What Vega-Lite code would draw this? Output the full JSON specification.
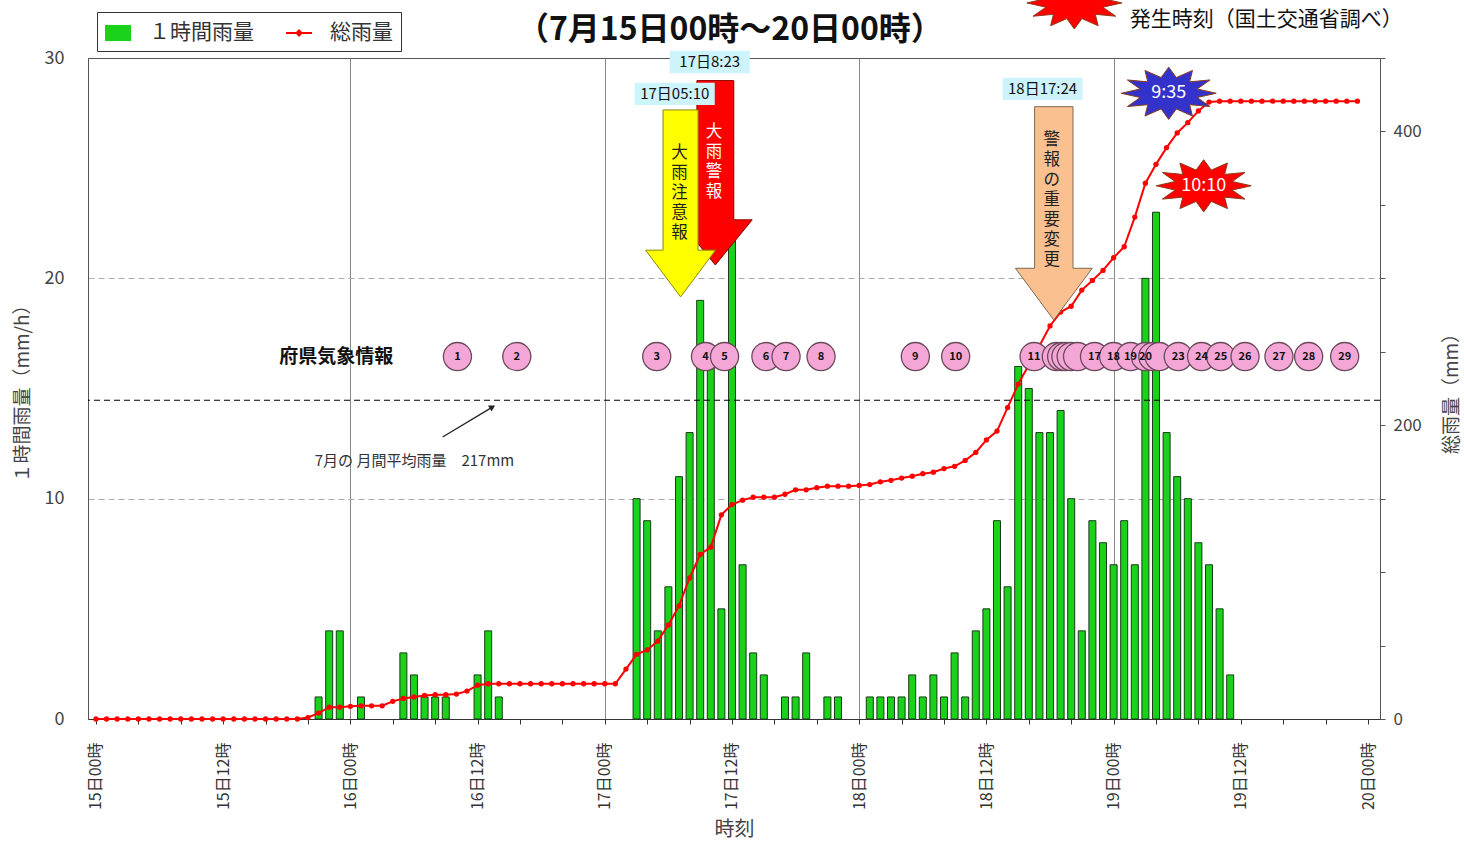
{
  "$schema": "https://vega.github.io/schema/vega-lite/v6.json",
  "width": 1292,
  "height": 661,
  "autosize": {"type": "none"},
  "padding": {"left": 88, "top": 58, "right": 84, "bottom": 122},
  "background": "white",
  "config": {
    "font": "Noto Sans CJK JP",
    "view": {"fill": "#ffffcc", "stroke": "#555", "strokeWidth": 1}
  },
  "datasets": {
    "bars": [
      {"h": 21, "v": 1}, {"h": 22, "v": 4}, {"h": 23, "v": 4}, {"h": 25, "v": 1}, {"h": 29, "v": 3}, {"h": 30, "v": 2}, {"h": 31, "v": 1}, {"h": 32, "v": 1}, {"h": 33, "v": 1}, {"h": 36, "v": 2}, {"h": 37, "v": 4}, {"h": 38, "v": 1},
      {"h": 51, "v": 10}, {"h": 52, "v": 9}, {"h": 53, "v": 4}, {"h": 54, "v": 6}, {"h": 55, "v": 11}, {"h": 56, "v": 13}, {"h": 57, "v": 19}, {"h": 58, "v": 16}, {"h": 59, "v": 5}, {"h": 60, "v": 22}, {"h": 61, "v": 7}, {"h": 62, "v": 3}, {"h": 63, "v": 2}, {"h": 65, "v": 1}, {"h": 66, "v": 1}, {"h": 67, "v": 3}, {"h": 69, "v": 1}, {"h": 70, "v": 1},
      {"h": 73, "v": 1}, {"h": 74, "v": 1}, {"h": 75, "v": 1}, {"h": 76, "v": 1}, {"h": 77, "v": 2}, {"h": 78, "v": 1}, {"h": 79, "v": 2}, {"h": 80, "v": 1}, {"h": 81, "v": 3}, {"h": 82, "v": 1}, {"h": 83, "v": 4}, {"h": 84, "v": 5}, {"h": 85, "v": 9}, {"h": 86, "v": 6}, {"h": 87, "v": 16}, {"h": 88, "v": 15}, {"h": 89, "v": 13}, {"h": 90, "v": 13}, {"h": 91, "v": 14}, {"h": 92, "v": 10}, {"h": 93, "v": 4}, {"h": 94, "v": 9}, {"h": 95, "v": 8}, {"h": 96, "v": 7}, {"h": 97, "v": 9}, {"h": 98, "v": 7}, {"h": 99, "v": 20}, {"h": 100, "v": 23}, {"h": 101, "v": 13}, {"h": 102, "v": 11}, {"h": 103, "v": 10}, {"h": 104, "v": 8}, {"h": 105, "v": 7}, {"h": 106, "v": 5}, {"h": 107, "v": 2}
    ],
    "total": [
      {"h": 0, "t": 0}, {"h": 1, "t": 0}, {"h": 2, "t": 0}, {"h": 3, "t": 0}, {"h": 4, "t": 0}, {"h": 5, "t": 0}, {"h": 6, "t": 0}, {"h": 7, "t": 0}, {"h": 8, "t": 0}, {"h": 9, "t": 0},
      {"h": 10, "t": 0}, {"h": 11, "t": 0}, {"h": 12, "t": 0}, {"h": 13, "t": 0}, {"h": 14, "t": 0}, {"h": 15, "t": 0}, {"h": 16, "t": 0}, {"h": 17, "t": 0}, {"h": 18, "t": 0}, {"h": 19, "t": 0},
      {"h": 20, "t": 1}, {"h": 21, "t": 4}, {"h": 22, "t": 8}, {"h": 23, "t": 8}, {"h": 24, "t": 8.6}, {"h": 25, "t": 9}, {"h": 26, "t": 9}, {"h": 27, "t": 9}, {"h": 28, "t": 12}, {"h": 29, "t": 14},
      {"h": 30, "t": 15}, {"h": 31, "t": 16}, {"h": 32, "t": 16.5}, {"h": 33, "t": 16.5}, {"h": 34, "t": 17}, {"h": 35, "t": 19}, {"h": 36, "t": 23}, {"h": 37, "t": 24}, {"h": 38, "t": 24}, {"h": 39, "t": 24},
      {"h": 40, "t": 24}, {"h": 41, "t": 24}, {"h": 42, "t": 24}, {"h": 43, "t": 24}, {"h": 44, "t": 24}, {"h": 45, "t": 24}, {"h": 46, "t": 24}, {"h": 47, "t": 24}, {"h": 48, "t": 24}, {"h": 49, "t": 24},
      {"h": 50, "t": 34}, {"h": 51, "t": 44}, {"h": 52, "t": 47}, {"h": 53, "t": 53}, {"h": 54, "t": 64}, {"h": 55, "t": 77}, {"h": 56, "t": 96}, {"h": 57, "t": 112}, {"h": 58, "t": 117}, {"h": 59, "t": 139},
      {"h": 60, "t": 146}, {"h": 61, "t": 149}, {"h": 62, "t": 151}, {"h": 63, "t": 151}, {"h": 64, "t": 151}, {"h": 65, "t": 153}, {"h": 66, "t": 156}, {"h": 67, "t": 156}, {"h": 68, "t": 157.5}, {"h": 69, "t": 158.5},
      {"h": 70, "t": 158.5}, {"h": 71, "t": 158.5}, {"h": 72, "t": 159}, {"h": 73, "t": 159.6}, {"h": 74, "t": 161.5}, {"h": 75, "t": 162.5}, {"h": 76, "t": 164}, {"h": 77, "t": 165.3}, {"h": 78, "t": 167}, {"h": 79, "t": 168},
      {"h": 80, "t": 170.5}, {"h": 81, "t": 172}, {"h": 82, "t": 176}, {"h": 83, "t": 181.5}, {"h": 84, "t": 190}, {"h": 85, "t": 196}, {"h": 86, "t": 212}, {"h": 87, "t": 228}, {"h": 88, "t": 241}, {"h": 89, "t": 254},
      {"h": 90, "t": 267.6}, {"h": 91, "t": 277}, {"h": 92, "t": 281}, {"h": 93, "t": 292}, {"h": 94, "t": 298.6}, {"h": 95, "t": 305.4}, {"h": 96, "t": 314}, {"h": 97, "t": 321.5}, {"h": 98, "t": 341.7}, {"h": 99, "t": 364.8},
      {"h": 100, "t": 377.6}, {"h": 101, "t": 389}, {"h": 102, "t": 399}, {"h": 103, "t": 406}, {"h": 104, "t": 414}, {"h": 105, "t": 420}, {"h": 106, "t": 420.6}, {"h": 107, "t": 420.6}, {"h": 108, "t": 420.6}, {"h": 109, "t": 420.6},
      {"h": 110, "t": 420.6}, {"h": 111, "t": 420.6}, {"h": 112, "t": 420.6}, {"h": 113, "t": 420.6}, {"h": 114, "t": 420.6}, {"h": 115, "t": 420.6}, {"h": 116, "t": 420.6}, {"h": 117, "t": 420.6}, {"h": 118, "t": 420.6}, {"h": 119, "t": 420.6}
    ],
    "info": [
      {"n": 1, "h": 34.1}, {"n": 2, "h": 39.7}, {"n": 3, "h": 52.9}, {"n": 4, "h": 57.5}, {"n": 5, "h": 59.3}, {"n": 6, "h": 63.2}, {"n": 7, "h": 65.1}, {"n": 8, "h": 68.4}, {"n": 9, "h": 77.3}, {"n": 10, "h": 81.1},
      {"n": 11, "h": 88.5}, {"n": 12, "h": 90.6}, {"n": 13, "h": 91.1}, {"n": 14, "h": 91.5}, {"n": 15, "h": 92.0}, {"n": 16, "h": 92.6}, {"n": 17, "h": 94.2}, {"n": 18, "h": 96.0}, {"n": 19, "h": 97.6}, {"n": 20, "h": 99.0},
      {"n": 21, "h": 99.7}, {"n": 22, "h": 100.3}, {"n": 23, "h": 102.1}, {"n": 24, "h": 104.3}, {"n": 25, "h": 106.1}, {"n": 26, "h": 108.4}, {"n": 27, "h": 111.6}, {"n": 28, "h": 114.4}, {"n": 29, "h": 117.8}
    ],
    "arrowText": [
      {"label": "大\n雨\n注\n意\n報", "h": 55.06, "v": 26.05, "kind": "advisory"},
      {"label": "大\n雨\n警\n報", "h": 58.3, "v": 27.0, "kind": "warning"},
      {"label": "警\n報\nの\n重\n要\n変\n更", "h": 90.17, "v": 26.65, "kind": "change"}
    ],
    "times": [
      {"label": "17日05:10", "h": 54.6, "v": 28.37},
      {"label": "17日8:23", "h": 57.9, "v": 29.82},
      {"label": "18日17:24", "h": 89.3, "v": 28.6}
    ],
    "stars": [
      {"label": "", "h": 92.3, "v": 32.5, "kind": "red"},
      {"label": "9:35", "h": 101.2, "v": 28.4, "kind": "blue"},
      {"label": "10:10", "h": 104.5, "v": 24.2, "kind": "red"}
    ]
  },
  "layer": [
    {
      "data": {"name": "bars"},
      "mark": {"type": "bar", "width": 7, "fill": "#19d219", "stroke": "#1a3a1a", "strokeWidth": 1},
      "encoding": {
        "x": {
          "field": "h", "type": "quantitative",
          "scale": {"domain": [-0.28, 120.66], "nice": false, "zero": false},
          "axis": {
            "values": [0,1,2,3,4,5,6,7,8,9,10,11,12,13,14,15,16,17,18,19,20,21,22,23,24,25,26,27,28,29,30,31,32,33,34,35,36,37,38,39,40,41,42,43,44,45,46,47,48,49,50,51,52,53,54,55,56,57,58,59,60,61,62,63,64,65,66,67,68,69,70,71,72,73,74,75,76,77,78,79,80,81,82,83,84,85,86,87,88,89,90,91,92,93,94,95,96,97,98,99,100,101,102,103,104,105,106,107,108,109,110,111,112,113,114,115,116,117,118,119,120],
            "labelExpr": "datum.value % 12 === 0 ? (floor(datum.value / 24) + 15) + '日' + (datum.value % 24 === 0 ? '00' : '12') + '時' : ''",
            "labelAngle": 270,
            "labelFontSize": 16,
            "labelColor": "#333",
            "labelPadding": 18,
            "labelOverlap": false,
            "tickSize": 5,
            "tickColor": "#333",
            "domainColor": "#333",
            "grid": true,
            "gridColor": "#888",
            "gridOpacity": {"condition": {"test": "datum.value % 24 === 0 && datum.value > 0 && datum.value < 120", "value": 1}, "value": 0},
            "title": "時刻",
            "titleFontSize": 20,
            "titleFontWeight": "normal",
            "titleColor": "#444",
            "titlePadding": 10
          }
        },
        "y": {
          "field": "v", "type": "quantitative",
          "scale": {"domain": [0, 30], "nice": false},
          "axis": {
            "values": [0, 10, 20, 30],
            "title": "１時間雨量（mm/h）",
            "titleFontSize": 19,
            "titleFontWeight": "normal",
            "titleColor": "#444",
            "titlePadding": 12,
            "labelFontSize": 18,
            "labelColor": "#444",
            "labelPadding": 24,
            "ticks": false,
            "domainColor": "#555",
            "grid": true,
            "gridDash": [6, 4],
            "gridColor": "#aaa",
            "gridOpacity": {"condition": {"test": "datum.value === 10 || datum.value === 20", "value": 1}, "value": 0}
          }
        }
      }
    },
    {
      "data": {"values": [{"series": "１時間雨量"}, {"series": "総雨量"}]},
      "mark": {"type": "point", "filled": true, "opacity": 0},
      "encoding": {
        "color": {
          "field": "series", "type": "nominal",
          "scale": {"domain": ["１時間雨量", "総雨量"], "range": ["#19d219", "#ff0000"]},
          "legend": {
            "title": null,
            "orient": "none",
            "legendX": 9,
            "legendY": -46,
            "direction": "horizontal",
            "fillColor": "white",
            "strokeColor": "#333",
            "padding": 8,
            "labelFontSize": 21,
            "labelColor": "#333",
            "labelOffset": 18,
            "columnPadding": 32,
            "symbolSize": 676,
            "symbolStrokeWidth": 0,
            "symbolOpacity": 1
          }
        },
        "shape": {
          "field": "series", "type": "nominal",
          "scale": {"domain": ["１時間雨量", "総雨量"], "range": ["M-1,-0.62H1V0.62H-1Z", "M-1,-0.07H1V0.07H-1Z M-0.3,0L0,-0.3L0.3,0L0,0.3Z"]},
          "legend": {
            "title": null,
            "orient": "none",
            "legendX": 9,
            "legendY": -46,
            "direction": "horizontal",
            "fillColor": "white",
            "strokeColor": "#333",
            "padding": 8,
            "labelFontSize": 21,
            "labelColor": "#333",
            "labelOffset": 18,
            "columnPadding": 32,
            "symbolSize": 676,
            "symbolStrokeWidth": 0,
            "symbolOpacity": 1
          }
        }
      }
    },
    {
      "layer": [
        {
          "data": {"name": "total"},
          "mark": {"type": "line", "strokeWidth": 2, "color": "#ff0000", "point": {"filled": true, "size": 28, "color": "#ff0000"}},
          "encoding": {
            "x": {"field": "h", "type": "quantitative", "scale": {"domain": [-0.28, 120.66], "nice": false, "zero": false}},
            "y": {
              "field": "t", "type": "quantitative",
              "scale": {"domain": [0, 450], "nice": false},
              "axis": {
                "orient": "right",
                "values": [0, 50, 100, 150, 200, 250, 300, 350, 400, 450],
                "labelExpr": "datum.value % 200 === 0 ? datum.label : ''",
                "title": "総雨量（mm）",
                "titleAngle": 270,
                "titleFontSize": 19,
                "titleFontWeight": "normal",
                "titleColor": "#444",
                "titlePadding": 40,
                "labelFontSize": 17,
                "labelColor": "#444",
                "labelPadding": 8,
                "tickSize": 5,
                "tickColor": "#555",
                "domain": false,
                "grid": false
              }
            }
          }
        },
        {
          "data": {"values": [{"avg": 217}]},
          "mark": {"type": "rule", "strokeDash": [6, 4], "color": "black", "strokeWidth": 1.2},
          "encoding": {
            "y": {"field": "avg", "type": "quantitative", "scale": {"domain": [0, 450], "nice": false}}
          }
        }
      ]
    },
    {
      "encoding": {
        "x": {"field": "h", "type": "quantitative", "scale": {"domain": [-0.28, 120.66], "nice": false, "zero": false}}
      },
      "layer": [
        {
          "data": {"name": "info"},
          "mark": {"type": "point", "shape": "circle", "filled": true, "size": 790, "fill": "#f4a6d6", "stroke": "#6a4a5a", "strokeWidth": 1.3, "opacity": 1},
          "encoding": {"y": {"datum": 16.45, "type": "quantitative", "scale": {"domain": [0, 30], "nice": false}, "axis": null}}
        },
        {
          "data": {"name": "info"},
          "transform": [{"filter": "indexof([12, 13, 14, 15, 16, 21, 22], datum.n) < 0"}],
          "mark": {"type": "text", "fontSize": 11, "fontWeight": "bold", "color": "#111", "baseline": "middle", "align": "center"},
          "encoding": {"y": {"datum": 16.45, "type": "quantitative", "axis": null}, "text": {"field": "n"}}
        },
        {
          "data": {"values": [{"name": "大雨警報", "h": 58.43, "v": 24.79}]},
          "mark": {"type": "point", "filled": true, "shape": "M-0.2,-1H0.2V0.51H0.4L0,1L-0.4,0.51H-0.2Z", "size": 34000, "fill": "#ff0000", "stroke": "#8a0000", "strokeWidth": 1, "opacity": 1},
          "encoding": {"y": {"field": "v", "type": "quantitative", "axis": null}}
        },
        {
          "data": {"values": [{"name": "大雨注意報", "h": 55.15, "v": 23.4}]},
          "mark": {"type": "point", "filled": true, "shape": "M-0.187,-1H0.187V0.5H0.374L0,1L-0.374,0.5H-0.187Z", "size": 34969, "fill": "#ffff00", "stroke": "#8a8a00", "strokeWidth": 1, "opacity": 1},
          "encoding": {"y": {"field": "v", "type": "quantitative", "axis": null}}
        },
        {
          "data": {"values": [{"name": "警報の重要変更", "h": 90.36, "v": 22.95}]},
          "mark": {"type": "point", "filled": true, "shape": "M-0.18,-1H0.18V0.515H0.36L0,1L-0.36,0.515H-0.18Z", "size": 45500, "fill": "#fac090", "stroke": "#7a6a50", "strokeWidth": 1, "opacity": 1},
          "encoding": {"y": {"field": "v", "type": "quantitative", "axis": null}}
        },
        {
          "data": {"name": "arrowText"},
          "mark": {"type": "text", "fontSize": 16.5, "lineBreak": "\n", "lineHeight": 20, "baseline": "top", "align": "center"},
          "encoding": {
            "y": {"field": "v", "type": "quantitative", "axis": null},
            "text": {"field": "label"},
            "color": {"condition": {"test": "datum.kind === 'warning'", "value": "white"}, "value": "#222"}
          }
        },
        {
          "data": {"name": "times"},
          "mark": {"type": "point", "filled": true, "shape": "M-1,-0.28H1V0.28H-1Z", "size": 6400, "fill": "#cdf3fb", "strokeWidth": 0, "opacity": 1},
          "encoding": {"y": {"field": "v", "type": "quantitative", "axis": null}}
        },
        {
          "data": {"name": "times"},
          "mark": {"type": "text", "fontSize": 15, "color": "#111", "baseline": "middle", "align": "center"},
          "encoding": {"y": {"field": "v", "type": "quantitative", "axis": null}, "text": {"field": "label"}}
        },
        {
          "data": {"name": "stars"},
          "mark": {"type": "point", "filled": true, "shape": "M1,0L0.6,0.09L0.87,0.28L0.44,0.24L0.5,0.48L0.16,0.33L0,0.55L-0.16,0.33L-0.5,0.48L-0.44,0.24L-0.87,0.28L-0.6,0.09L-1,0L-0.6,-0.09L-0.87,-0.28L-0.44,-0.24L-0.5,-0.48L-0.16,-0.33L0,-0.55L0.16,-0.33L0.5,-0.48L0.44,-0.24L0.87,-0.28L0.6,-0.09Z", "size": 9025, "stroke": "#8b3a1a", "strokeWidth": 1, "opacity": 1},
          "encoding": {
            "y": {"field": "v", "type": "quantitative", "axis": null},
            "fill": {"condition": {"test": "datum.kind === 'blue'", "value": "#3333cc"}, "value": "#ff0000"}
          }
        },
        {
          "data": {"name": "stars"},
          "mark": {"type": "text", "fontSize": 18, "color": "white", "baseline": "middle", "align": "center"},
          "encoding": {"y": {"field": "v", "type": "quantitative", "axis": null}, "text": {"field": "label"}}
        },
        {
          "data": {"values": [{"label": "（7月15日00時～20日00時）", "h": 59.8, "v": 31.25}]},
          "mark": {"type": "text", "fontSize": 32, "fontWeight": "bold", "color": "#111", "baseline": "middle", "align": "center"},
          "encoding": {"y": {"field": "v", "type": "quantitative", "axis": null}, "text": {"field": "label"}}
        },
        {
          "data": {"values": [{"label": "府県気象情報", "h": 22.66, "v": 16.43}]},
          "mark": {"type": "text", "fontSize": 19, "fontWeight": "bold", "color": "#111", "baseline": "middle", "align": "center"},
          "encoding": {"y": {"field": "v", "type": "quantitative", "axis": null}, "text": {"field": "label"}}
        },
        {
          "data": {"values": [{"label": "7月の 月間平均雨量　217mm", "h": 30.05, "v": 11.71}]},
          "mark": {"type": "text", "fontSize": 15, "color": "#333", "baseline": "middle", "align": "center"},
          "encoding": {"y": {"field": "v", "type": "quantitative", "axis": null}, "text": {"field": "label"}}
        },
        {
          "data": {"values": [{"label": "発生時刻（国土交通省調べ）", "h": 110.4, "v": 31.73}]},
          "mark": {"type": "text", "fontSize": 21, "color": "#111", "baseline": "middle", "align": "center"},
          "encoding": {"y": {"field": "v", "type": "quantitative", "axis": null}, "text": {"field": "label"}}
        },
        {
          "data": {"values": [{"h": 32.7, "v": 12.8, "h2": 37.2, "v2": 14.1}]},
          "mark": {"type": "rule", "color": "#222", "strokeWidth": 1.3},
          "encoding": {
            "y": {"field": "v", "type": "quantitative", "axis": null},
            "x2": {"field": "h2"},
            "y2": {"field": "v2"}
          }
        },
        {
          "data": {"values": [{"h": 37.4, "v": 14.16}]},
          "mark": {"type": "point", "shape": "triangle-up", "filled": true, "size": 50, "angle": 59, "color": "#222", "opacity": 1},
          "encoding": {"y": {"field": "v", "type": "quantitative", "axis": null}}
        }
      ]
    }
  ],
  "resolve": {"scale": {"y": "independent"}, "axis": {"y": "independent"}}
}
